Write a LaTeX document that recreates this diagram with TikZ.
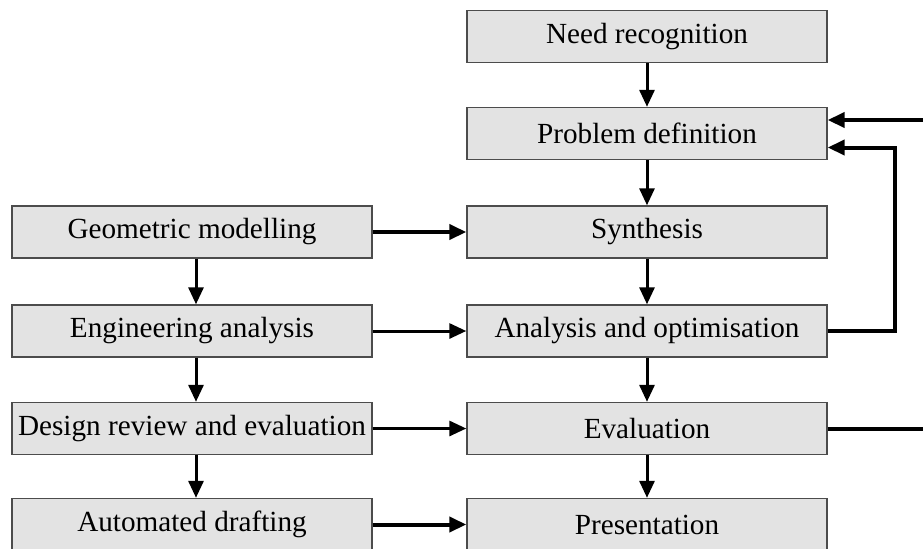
\documentclass[tikz,border=0pt]{standalone}
\usepackage{fontspec}
\setmainfont{Liberation Serif}
\usetikzlibrary{arrows.meta}

\tikzset{
  stagebox/.style={draw=black!70, fill=black!11, line width=0.7pt, minimum width=180pt,
    minimum height=26pt, inner sep=0pt, font=\fontsize{14.6}{17}\selectfont},
  flow/.style={-{Triangle[length=8.5pt,width=7.5pt]}, line width=1.5pt},
  thickflow/.style={flow, line width=2pt},
}

\begin{document}
\begin{tikzpicture}[x=0.5pt, y=-0.5pt]
\useasboundingbox (0,0) rectangle (923,548);
% design process (right)
\node[stagebox] (need) at (647,36.5) {Need recognition};
\node[stagebox] (prob) at (647,133.5) {Problem definition};
\node[stagebox] (synth) at (647,232) {Synthesis};
\node[stagebox] (anal) at (647,331) {Analysis and optimisation};
\node[stagebox] (eval) at (647,428.5) {Evaluation};
\node[stagebox] (pres) at (647,524.5) {Presentation};
% CAD process (left)
\node[stagebox] (geom) at (192,232) {Geometric modelling};
\node[stagebox] (eng) at (192,331) {Engineering analysis};
\node[stagebox] (review) at (192,428.5) {Design review and evaluation};
\node[stagebox] (draft) at (192,524.5) {Automated drafting};
\coordinate (fromtop) at (923,120);
\coordinate (evalout) at (923,428.5);

\path [flow, draw=black] (need) edge (prob);
\path [flow, draw=black] (prob) edge (synth);
\path [flow, draw=black] (synth) edge (anal);
\path [flow, draw=black] (anal) edge (eval);
\path [flow, draw=black] (eval) edge (pres);
\draw [flow] ([xshift=2pt]geom.south) -- ([xshift=2pt]eng.north);
\draw [flow] ([xshift=2pt]eng.south) -- ([xshift=2pt]review.north);
\draw [flow] ([xshift=2pt]review.south) -- ([xshift=2pt]draft.north);
\path [thickflow, draw=black] (geom) edge (synth);
\path [flow, draw=black] (eng) edge (anal);
\path [flow, draw=black] (review) edge (eval);
\path [thickflow, draw=black] (draft) edge (pres);
% feedback
\draw [thickflow] (anal.east) -- ++(33.5pt,0) |- ([yshift=-7pt]prob.east);
\draw [thickflow] (fromtop) -- (prob.east |- fromtop);
\draw [line width=2pt] (eval.east) -- (evalout);
\end{tikzpicture}
\end{document}
